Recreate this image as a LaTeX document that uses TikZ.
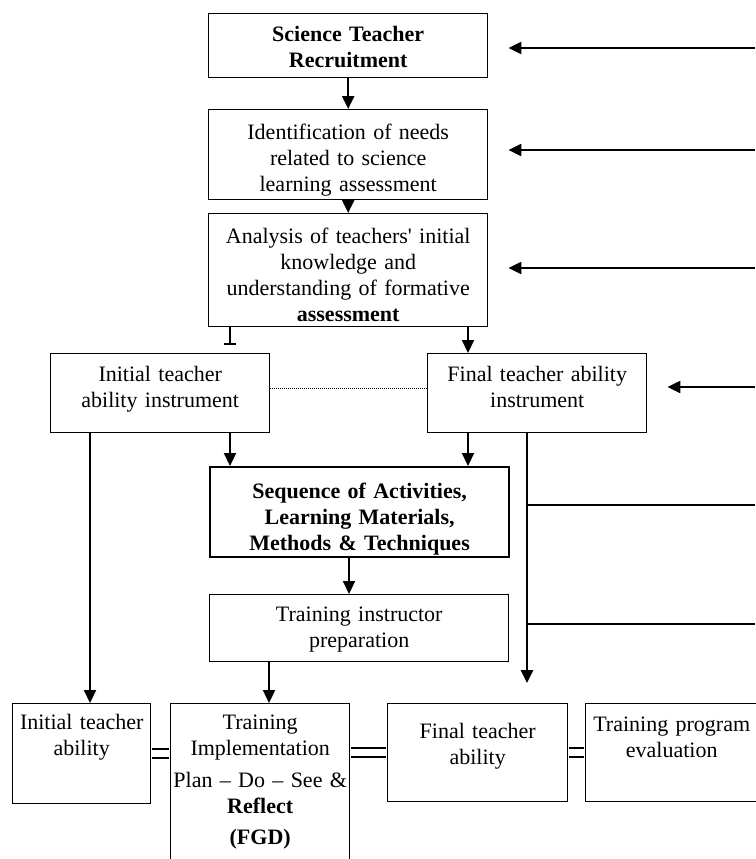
\documentclass[tikz,border=0pt]{standalone}
\usepackage{fontspec}
\setmainfont{Liberation Serif}
\usetikzlibrary{arrows.meta}

\begin{document}
\begin{tikzpicture}[
	x=1pt, y=-1pt,
	every node/.style = {font=\fontsize{22}{26}\selectfont},
	box/.style = {draw, line width=1.4pt, anchor=north west, inner sep=0pt, align=center},
	arr/.style = {line width=2.2pt, -{Triangle[length=13pt, width=12pt]}},
	tbar/.style = {line width=2.2pt, -{Bar[width=12pt, line width=2pt]}},
	link/.style = {double, double distance=7.5pt, line width=2pt, shorten <=0.7pt, shorten >=0.7pt},
]
	\useasboundingbox (0,0) rectangle (755,859);

	\node [box, minimum width=279pt, text width=270pt, text height=28pt, text depth=36pt] (recruit) at (208,13)
		{\textbf{Science Teacher}\\\textbf{Recruitment}};
	\node [box, minimum width=279pt, text width=270pt, text height=30pt, text depth=60pt] (ident) at (208,109)
		{Identification of needs\\related to science\\learning assessment};
	\node [box, minimum width=279pt, text width=270pt, text height=30pt, text depth=83pt] (analysis) at (208,213)
		{Analysis of teachers{\addfontfeatures{Ligatures=TeXOff}'} initial\\knowledge and\\understanding of formative\\\textbf{assessment}};

	\node [box, minimum width=219pt, text width=212pt, text height=28pt, text depth=51pt] (ini) at (50,353)
		{Initial teacher\\ability instrument};
	\node [box, minimum width=219pt, text width=212pt, text height=28pt, text depth=51pt] (fin) at (427,353)
		{Final teacher ability\\instrument};

	\node [box, line width=2.2pt, minimum width=299pt, text width=290pt, text height=31pt, text depth=59pt] (seq) at (209,466)
		{\textbf{Sequence of Activities,}\\\textbf{Learning Materials,}\\\textbf{Methods \& Techniques}};
	\node [box, minimum width=299pt, text width=290pt, text height=27pt, text depth=40pt] (instr) at (209,594)
		{Training instructor\\preparation};

	\node [box, minimum width=138pt, text width=134pt, text height=26pt, text depth=74pt] (initab) at (12,703)
		{Initial teacher\\ability};
	\node [box, minimum width=179pt, text width=177pt, text height=26pt, text depth=135pt] (impl) at (170,703)
		{Training\\Implementation\\[6pt]Plan -- Do -- See \&\\\textbf{Reflect}\\[5pt]\textbf{(FGD)}};
	\node [box, minimum width=180pt, text width=174pt, text height=35pt, text depth=63pt] (finab) at (387,703)
		{Final teacher\\ability};
	\node [box, minimum width=172pt, text width=168pt, text height=28pt, text depth=70pt] (eval) at (585,703)
		{Training program\\evaluation};

	\coordinate (xa) at (230,0);
	\coordinate (xb) at (468,0);
	\coordinate (xc) at (90,0);
	\coordinate (xd) at (349,0);
	\coordinate (xe) at (269,0);
	\coordinate (xf) at (527,0);

	\draw [arr] (recruit) -- (ident);
	\draw [arr] (ident) -- (analysis);
	\draw [tbar, shorten >=8pt] (analysis.south -| xa) -- (ini.north -| xa);
	\draw [arr] (analysis.south -| xb) -- (fin.north -| xb);
	\draw [densely dotted, line width=1pt] ([yshift=5pt]ini.east) -- ([yshift=5pt]fin.west);
	\draw [arr] (ini.south -| xa) -- (seq.north -| xa);
	\draw [arr] (fin.south -| xb) -- (seq.north -| xb);
	\draw [arr] (ini.south -| xc) -- (initab.north -| xc);
	\draw [arr] (seq.south -| xd) -- (instr.north -| xd);
	\draw [arr] (instr.south -| xe) -- (impl.north -| xe);
	\draw [arr, line width=2.6pt, shorten >=20pt] (fin.south -| xf) -- (finab.north -| xf);

	\foreach \name/\y in {out1/505, out2/624}{%
		\coordinate (\name) at (755,\y);
		\draw [line width=2pt] (\name -| xf) -- (\name);
	}

	\foreach \target/\y in {recruit/48, ident/150, analysis/268, fin/387}{%
		\coordinate (in-\target) at (755,\y);
		\draw [arr] (in-\target) -- ([xshift=20pt]\target.east |- in-\target);
	}

	\draw [link] (initab.east) -- (initab.east -| impl.west);
	\draw [link] (impl.east |- finab.west) -- (finab.west);
	\draw [link] (finab.east) -- (eval.west);
\end{tikzpicture}
\end{document}
